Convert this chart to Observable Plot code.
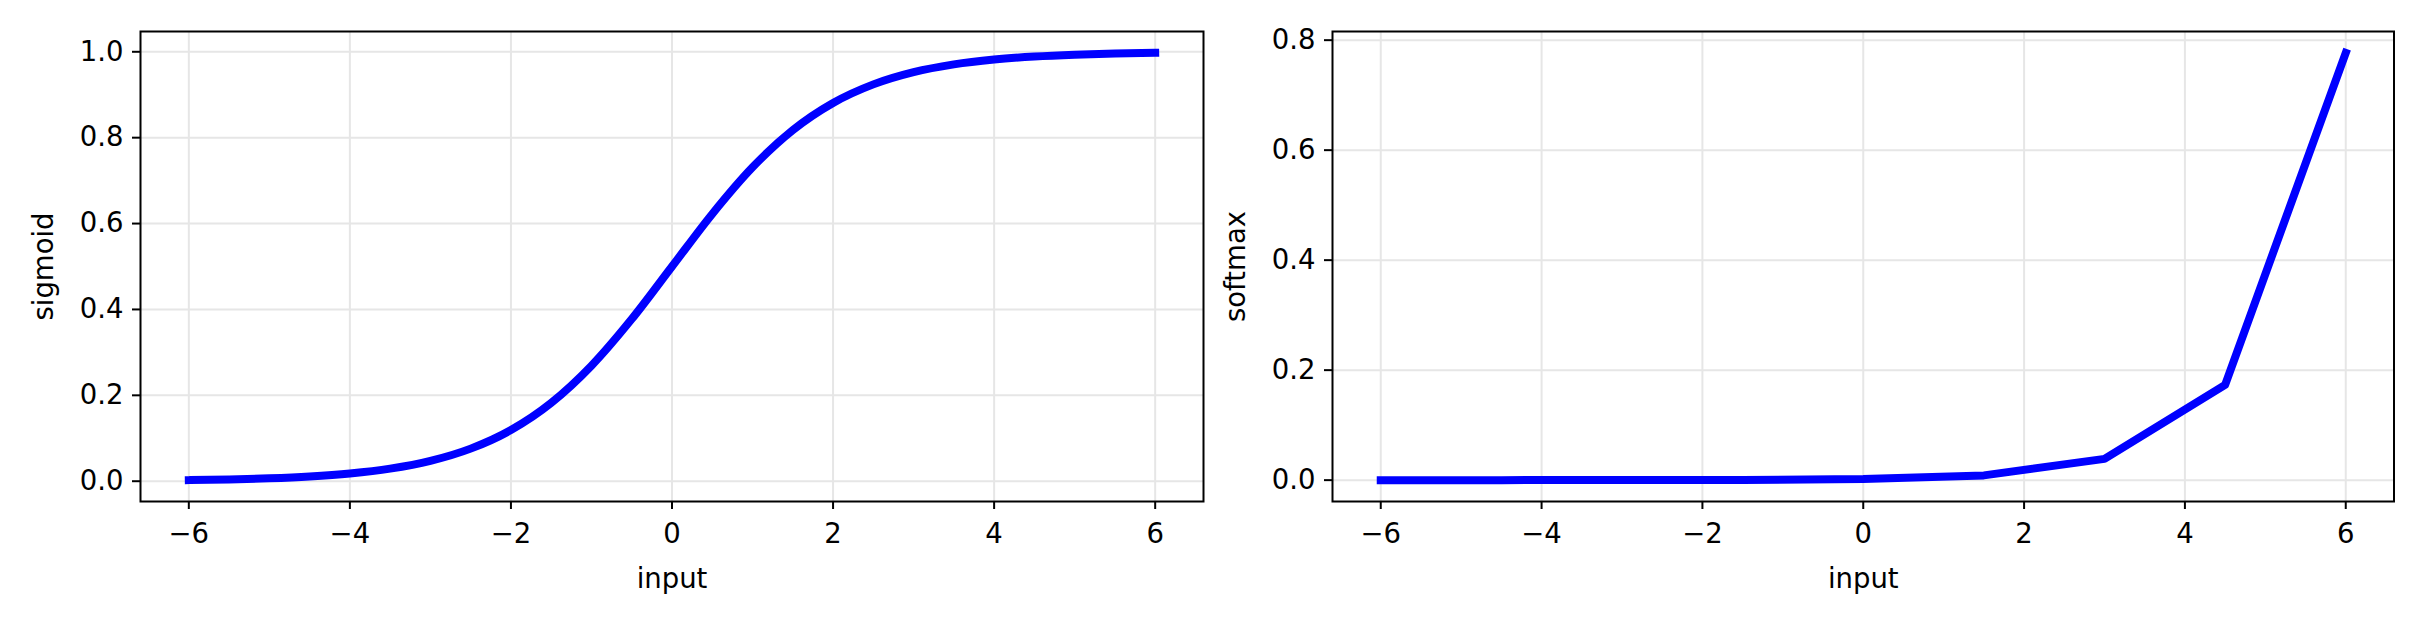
<!DOCTYPE html>
<html>
<head>
<meta charset="utf-8">
<script src="https://cdn.jsdelivr.net/npm/d3@7"></script>
<script src="https://cdn.jsdelivr.net/npm/@observablehq/plot@0.6"></script>
<style>
  html, body { margin: 0; padding: 0; background: #fff; }
  #row { display: flex; flex-direction: row; width: 2424px; height: 623px; }
  #row > svg, #row > figure { margin: 0; flex: none; }
</style>
</head>
<body>
<div id="row"></div>
<script>
// Sigmoid panel
const sigmoidInput = [-6, -5.5, -5, -4.5, -4, -3.5, -3, -2.5, -2, -1.5, -1, -0.5, 0, 0.5, 1, 1.5, 2, 2.5, 3, 3.5, 4, 4.5, 5, 5.5, 6];
const sigmoidValue = [0.0025, 0.0041, 0.0067, 0.0110, 0.0180, 0.0293, 0.0474, 0.0759, 0.1192, 0.1824, 0.2689, 0.3775, 0.5, 0.6225, 0.7311, 0.8176, 0.8808, 0.9241, 0.9526, 0.9707, 0.9820, 0.9890, 0.9933, 0.9959, 0.9975];

// Softmax panel
const softmaxInput = [-6, -4.5, -3, -1.5, 0, 1.5, 3, 4.5, 6];
const softmaxValue = [0.0000048, 0.000021, 0.000096, 0.00043, 0.0019, 0.0086, 0.0387, 0.1733, 0.7769];

// Tick labels
const xTicks = [-6, -4, -2, 0, 2, 4, 6];
const sigmoidTicks = [0, 0.2, 0.4, 0.6, 0.8, 1.0];
const softmaxTicks = [0, 0.2, 0.4, 0.6, 0.8];

const sigmoidData = sigmoidInput.map((x, i) => ({x, y: sigmoidValue[i]}));
const softmaxData = softmaxInput.map((x, i) => ({x, y: softmaxValue[i]}));

const fmtX = d3.format("d");
const fmtY = d3.format(".1f");

function panel({data, yDomain, yTicks, yLabel, marginLeft, marginRight, curve}) {
  return Plot.plot({
    width: 1212,
    height: 623,
    marginLeft,
    marginRight,
    marginTop: 31,
    marginBottom: 122,
    style: {fontFamily: "'DejaVu Sans', sans-serif", fontSize: "27.5px", color: "black", background: "white", overflow: "visible"},
    x: {domain: [-6.6, 6.6], ticks: xTicks, tickFormat: fmtX},
    y: {domain: yDomain, ticks: yTicks, tickFormat: fmtY},
    marks: [
      Plot.gridX(xTicks, {stroke: "#e6e6e6", strokeOpacity: 1, strokeWidth: 2}),
      Plot.gridY(yTicks, {stroke: "#e6e6e6", strokeOpacity: 1, strokeWidth: 2}),
      Plot.line(data, {x: "x", y: "y", stroke: "#0000ff", strokeWidth: 8, curve, strokeLinecap: "square", strokeLinejoin: "round"}),
      Plot.frame({stroke: "black", strokeWidth: 2}),
      Plot.axisX(xTicks, {tickSize: 8, tickPadding: 14, strokeWidth: 2, label: null, tickFormat: fmtX, fill: "black"}),
      Plot.axisY(yTicks, {tickSize: 8, tickPadding: 9, strokeWidth: 2, label: null, tickFormat: fmtY, fill: "black"}),
      Plot.text(["input"], {frameAnchor: "bottom", textAnchor: "middle", lineAnchor: "middle", dy: 78, fill: "black"}),
      Plot.text([yLabel], {frameAnchor: "left", textAnchor: "middle", lineAnchor: "middle", dx: -96, rotate: -90, fill: "black"})
    ]
  });
}

const row = document.getElementById("row");
row.appendChild(panel({data: sigmoidData, yDomain: [-0.04725, 1.04725], yTicks: sigmoidTicks, yLabel: "sigmoid", marginLeft: 140, marginRight: 9, curve: "monotone-x"}));
row.appendChild(panel({data: softmaxData, yDomain: [-0.03884, 0.81575], yTicks: softmaxTicks, yLabel: "softmax", marginLeft: 120, marginRight: 30.5, curve: "linear"}));
</script>
</body>
</html>
